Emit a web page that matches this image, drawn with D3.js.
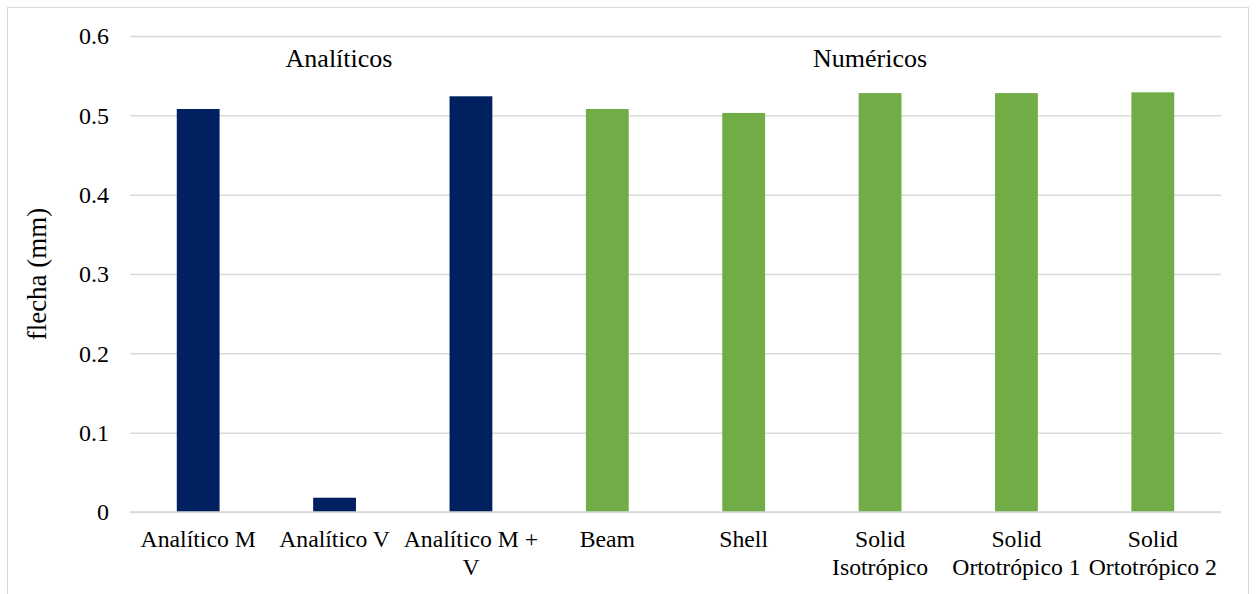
<!DOCTYPE html>
<html>
<head>
<meta charset="utf-8">
<script src="https://cdn.jsdelivr.net/npm/d3@7"></script>
<style>
  body { margin: 0; background: #fff; }
  text { font-family: "Liberation Serif", "Times New Roman", serif; fill: #000; }
</style>
</head>
<body>
<div id="chart"></div>
<script>
const width = 1256;
const height = 594;

// data
const categories = [
  "Analítico M",
  "Analítico V",
  "Analítico M + V",
  "Beam",
  "Shell",
  "Solid Isotrópico",
  "Solid Ortotrópico 1",
  "Solid Ortotrópico 2",
];
const flecha = [0.508, 0.018, 0.524, 0.508, 0.503, 0.528, 0.528, 0.529];
const groupOf = ["A", "A", "A", "N", "N", "N", "N", "N"];
const yTicks = [0, 0.1, 0.2, 0.3, 0.4, 0.5, 0.6];
const groupLabels = ["Analíticos", "Numéricos"];
const groupLabelX = [339, 870];

const colors = { A: "#002060", N: "#70ad47" };
const margin = { top: 36, right: 35, bottom: 82, left: 130 };

const svg = d3
  .select("#chart")
  .append("svg")
  .attr("width", width)
  .attr("height", height);

// chart frame
svg
  .append("rect")
  .attr("x", 7.5)
  .attr("y", 7.5)
  .attr("width", 1241)
  .attr("height", 600)
  .attr("fill", "none")
  .attr("stroke", "#d9d9d9")
  .attr("stroke-width", 1);

let x = d3
  .scaleBand()
  .domain(categories)
  .range([margin.left, width - margin.right])
  .paddingInner(0.686)
  .paddingOuter(0.343);

let y = d3
  .scaleLinear()
  .domain([0, 0.6])
  .range([height - margin.bottom, margin.top]);

// gridlines + y labels
const yAxis = d3
  .axisLeft(y)
  .tickValues(yTicks)
  .tickSize(-(width - margin.right - margin.left))
  .tickPadding(21)
  .tickFormat((d) => (d === 0 ? "0" : d3.format(".1f")(d)));

svg
  .append("g")
  .attr("transform", `translate(${margin.left},0)`)
  .call(yAxis)
  .call((g) => g.select(".domain").remove())
  .call((g) =>
    g.selectAll(".tick line").attr("stroke", "#d9d9d9").attr("stroke-width", 1.5)
  )
  .call((g) =>
    g.selectAll(".tick text").style("font-size", "24px").attr("fill", "#000")
  );

// bars
svg
  .append("g")
  .selectAll("rect")
  .data(categories)
  .enter()
  .append("rect")
  .attr("x", (d) => x(d))
  .attr("width", x.bandwidth())
  .attr("y", (d, i) => y(flecha[i]))
  .attr("height", (d, i) => y(0) - y(flecha[i]))
  .attr("fill", (d, i) => colors[groupOf[i]]);

// x axis line
svg
  .append("line")
  .attr("x1", margin.left)
  .attr("x2", width - margin.right)
  .attr("y1", y(0))
  .attr("y2", y(0))
  .attr("stroke", "#d9d9d9")
  .attr("stroke-width", 1.5);

// category labels, wrapped
const labels = svg
  .append("g")
  .selectAll("text")
  .data(categories)
  .enter()
  .append("text")
  .attr("x", (d) => x(d) + x.bandwidth() / 2)
  .attr("y", y(0) + 35)
  .attr("text-anchor", "middle")
  .style("font-size", "23.7px")
  .text((d) => d);

labels.each(function (d) {
  wrap(d3.select(this), x.step() * 1.05);
});

function wrap(text, maxW) {
  const words = text.text().split(/\s+/);
  const tx = text.attr("x");
  text.text(null);
  let line = [];
  let lineNo = 0;
  let tspan = text.append("tspan").attr("x", tx).attr("dy", 0);
  words.forEach((w) => {
    line.push(w);
    tspan.text(line.join(" "));
    if (tspan.node().getComputedTextLength() > maxW && line.length > 1) {
      line.pop();
      tspan.text(line.join(" "));
      line = [w];
      lineNo++;
      tspan = text.append("tspan").attr("x", tx).attr("dy", 28).text(w);
    }
  });
}

// group labels
svg
  .append("g")
  .selectAll("text")
  .data(groupLabels)
  .enter()
  .append("text")
  .attr("x", (d, i) => groupLabelX[i])
  .attr("y", 67)
  .attr("text-anchor", "middle")
  .style("font-size", "26px")
  .text((d) => d);

// y title
svg
  .append("text")
  .attr("transform", `translate(46,${(y(0) + y(0.6)) / 2}) rotate(-90)`)
  .attr("text-anchor", "middle")
  .style("font-size", "27px")
  .text("flecha (mm)");
</script>
</body>
</html>
